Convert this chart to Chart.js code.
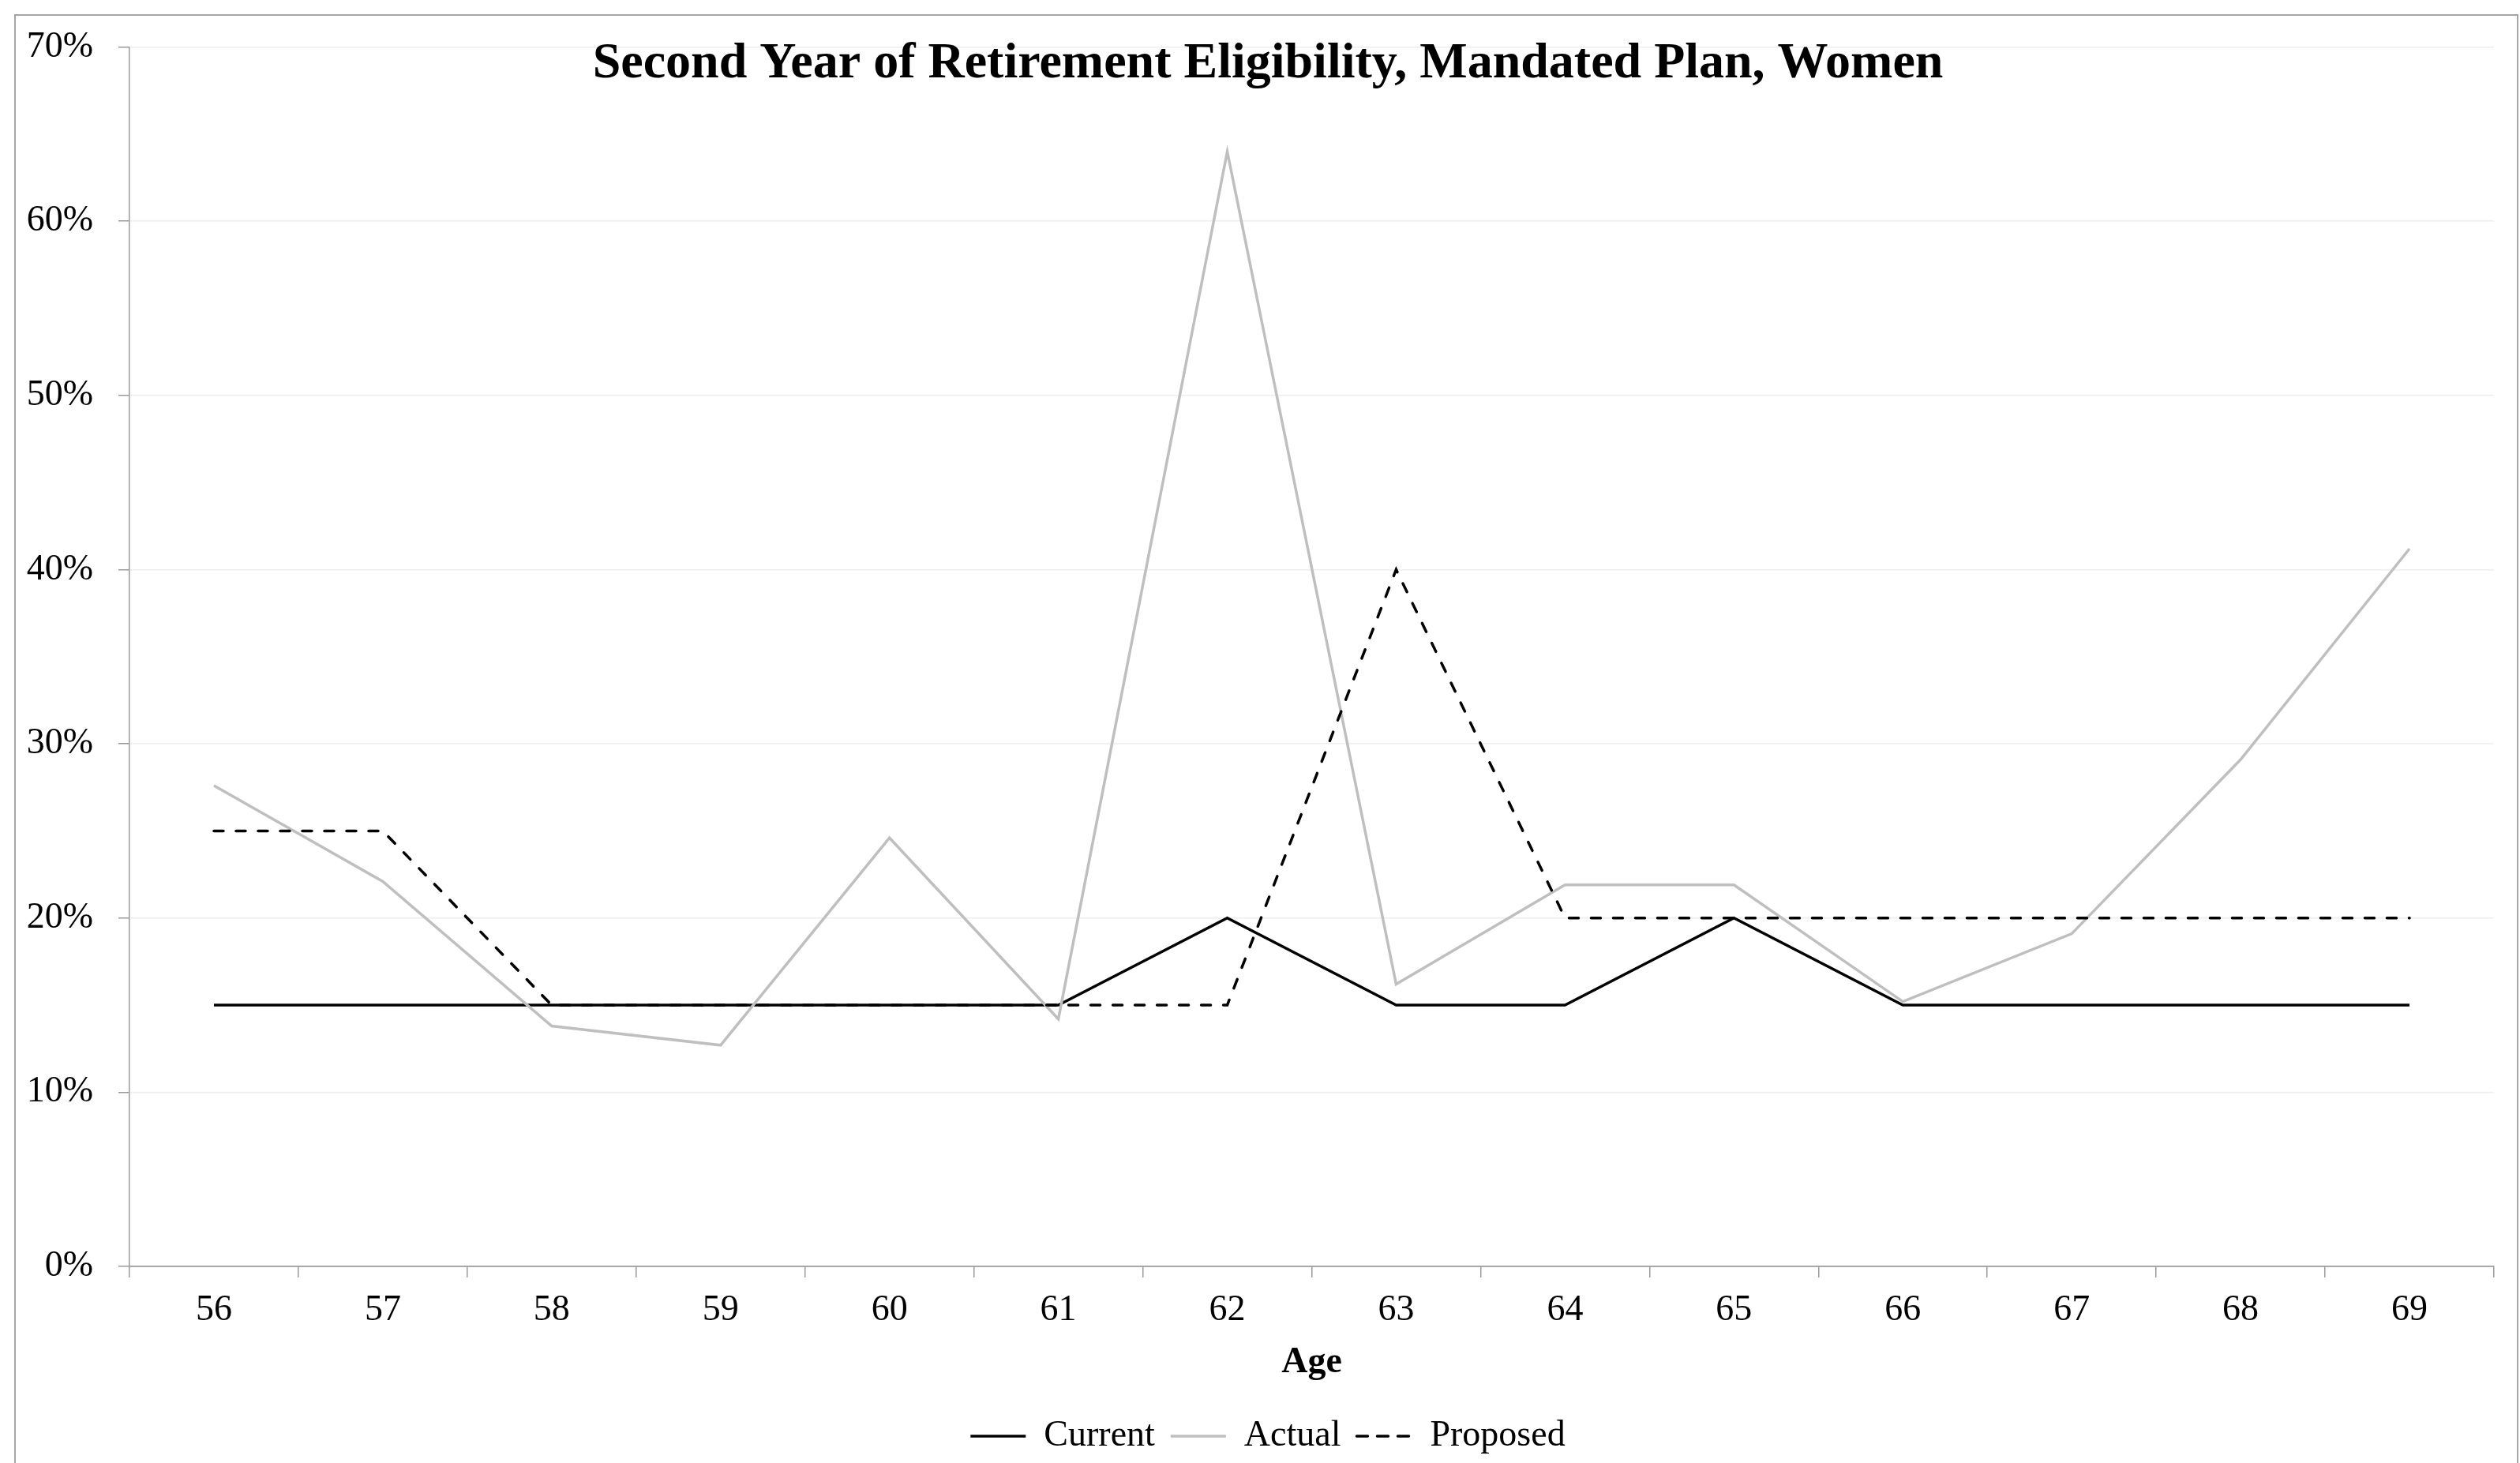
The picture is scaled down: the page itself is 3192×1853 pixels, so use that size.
<!DOCTYPE html>
<html>
<head>
<meta charset="utf-8">
<script src="https://cdn.jsdelivr.net/npm/chart.js@4.4.1/dist/chart.umd.min.js"></script>
<style>
  html, body { margin: 0; padding: 0; background: #ffffff; overflow: hidden; }
  #wrap { position: relative; width: 3192px; height: 1853px; }
  #c { position: absolute; left: 0; top: 0; }
  #frame { position: absolute; left: 18px; top: 18px; width: 3172px; height: 1900px;
           border: 2px solid #a6a6a6; box-sizing: border-box; pointer-events: none; }
</style>
</head>
<body>
<div id="wrap">
  <canvas id="c" width="3192" height="1853"></canvas>
  <div id="frame"></div>
</div>
<script>
// ---- data ----
const ages = ['56', '57', '58', '59', '60', '61', '62', '63', '64', '65', '66', '67', '68', '69'];
const currentRates  = [15, 15, 15, 15, 15, 15, 20, 15, 15, 20, 15, 15, 15, 15];
const actualRates   = [27.6, 22.1, 13.8, 12.7, 24.6, 14.2, 64.0, 16.2, 21.9, 21.9, 15.2, 19.1, 29.1, 41.2];
const proposedRates = [25, 25, 15, 15, 15, 15, 15, 40, 20, 20, 20, 20, 20, 20];
const seriesNames = ['Current', 'Actual', 'Proposed'];
const yTickValues = [0, 10, 20, 30, 40, 50, 60, 70];
const chartTitle = 'Second Year of Retirement Eligibility, Mandated Plan, Women';
const xTitle = 'Age';

const FONT = "'Liberation Serif', 'Times New Roman', Times, serif";
const AXIS_GRAY = '#9a9a9a';
const GRID_GRAY = '#eeeeee';

// centre the chart title and legend the way the original chart does
const recenter = {
  id: 'recenter',
  afterLayout(chart) {
    const L = 53;
    [chart.titleBlock, chart.legend].forEach(b => {
      if (b) { const r = b.right; b.left = L; b.width = r - L; }
    });
  }
};

new Chart(document.getElementById('c'), {
  type: 'line',
  plugins: [recenter],
  data: {
    labels: ages,
    datasets: [
      {
        label: seriesNames[0], data: currentRates,
        borderColor: '#000000', backgroundColor: '#000000',
        borderWidth: 3.5, pointRadius: 0, tension: 0, order: 3
      },
      {
        label: seriesNames[1], data: actualRates,
        borderColor: '#bfbfbf', backgroundColor: '#bfbfbf',
        borderWidth: 3.5, pointRadius: 0, tension: 0, order: 2
      },
      {
        label: seriesNames[2], data: proposedRates,
        borderColor: '#000000', backgroundColor: '#000000',
        borderWidth: 3.5, borderDash: [12, 16], borderCapStyle: 'round',
        pointRadius: 0, tension: 0, order: 1
      }
    ]
  },
  options: {
    responsive: false,
    animation: false,
    devicePixelRatio: 1,
    layout: { padding: { left: 20, right: 33, top: 58, bottom: 1 } },
    plugins: {
      title: {
        display: true,
        text: chartTitle,
        color: '#000000',
        font: { family: FONT, size: 64, weight: 'bold', lineHeight: 1.2 },
        padding: { top: -17, bottom: -59.8 }
      },
      legend: {
        display: true,
        position: 'bottom',
        labels: {
          color: '#000000',
          font: { family: FONT, size: 46 },
          usePointStyle: true,
          pointStyleWidth: 70,
          padding: 20,
          generateLabels: (chart) => chart.data.datasets.map((ds, i) => ({
            text: ds.label,
            datasetIndex: i,
            hidden: false,
            fontColor: '#000000',
            fillStyle: ds.borderColor,
            strokeStyle: ds.borderColor,
            lineWidth: ds.borderWidth,
            lineDash: ds.borderDash ? [14, 12] : [],
            lineCap: ds.borderDash ? 'round' : 'butt',
            pointStyle: 'line'
          }))
        }
      },
      tooltip: { enabled: false }
    },
    scales: {
      x: {
        type: 'category',
        offset: true,
        grid: {
          display: true, offset: true, drawOnChartArea: false, drawTicks: true,
          tickLength: 14, color: AXIS_GRAY, tickColor: AXIS_GRAY, lineWidth: 1.5
        },
        border: { display: true, color: AXIS_GRAY, width: 1.5 },
        ticks: { color: '#000000', font: { family: FONT, size: 46 }, padding: 14, maxRotation: 0, autoSkip: false },
        title: {
          display: true, text: xTitle, color: '#000000',
          font: { family: FONT, size: 46, weight: 'bold' },
          padding: { top: 0, bottom: 22 }
        },
        afterFit: (s) => { s.height = 172; }
      },
      y: {
        min: 0, max: 70,
        afterBuildTicks: (s) => { s.ticks = yTickValues.map(v => ({ value: v })); },
        grid: {
          display: true, drawOnChartArea: true, drawTicks: true, tickLength: 14,
          color: (ctx) => (ctx.tick && ctx.tick.value === 0) ? AXIS_GRAY : GRID_GRAY,
          tickColor: AXIS_GRAY, lineWidth: 1.5
        },
        border: { display: true, color: AXIS_GRAY, width: 1.5 },
        ticks: {
          color: '#000000', font: { family: FONT, size: 46 }, padding: 32,
          callback: (v) => v + '%'
        },
        afterFit: (s) => { s.width = 144; }
      }
    }
  }
});
</script>
</body>
</html>
